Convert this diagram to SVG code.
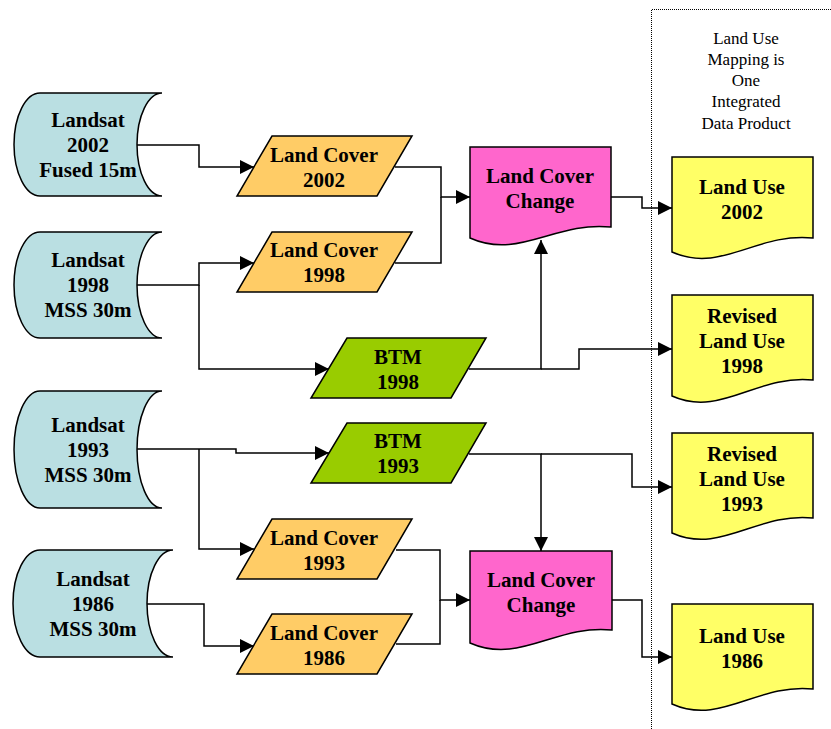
<svg xmlns="http://www.w3.org/2000/svg" width="831" height="729" viewBox="0 0 831 729" font-family="Liberation Serif, serif">
<defs>
<style>
.shape{stroke:#000;stroke-width:1.5;stroke-linejoin:miter}
.sat{fill:#BADFE2}
.lc{fill:#FFCC66}
.btm{fill:#99CC00}
.chg{fill:#FF66CC}
.lu{fill:#FFFF66}
.t{font-family:'Liberation Serif',serif;font-weight:bold;font-size:21px;text-anchor:middle;fill:#000}
.title{font-family:'Liberation Serif',serif;font-size:17px;text-anchor:middle;fill:#000}
.conn{fill:none;stroke:#000;stroke-width:1.5}
.dot{fill:none;stroke:#000;stroke-width:1;stroke-dasharray:1,1}
</style>
<marker id="arr" markerUnits="userSpaceOnUse" markerWidth="16" markerHeight="14" refX="14" refY="7" orient="auto">
<path d="M0,0 L14,7 L0,14 Z" fill="#000"/>
</marker>
</defs>
<rect width="831" height="729" fill="#fff"/>

<g id="boundary">
<path class="dot" d="M651.5,729 V9.5 H831"/>
<text class="title" x="746" y="44">Land Use</text>
<text class="title" x="746" y="65">Mapping is</text>
<text class="title" x="746" y="86">One</text>
<text class="title" x="746" y="107">Integrated</text>
<text class="title" x="746" y="129">Data Product</text>
</g>

<g id="connectors">
<path class="conn" d="M137,145 H199 V167 H254" marker-end="url(#arr)"/>
<path class="conn" d="M137,285 H199 V263 H254" marker-end="url(#arr)"/>
<path class="conn" d="M199,285 V369 H329" marker-end="url(#arr)"/>
<path class="conn" d="M395,167 H441 V197 H470" marker-end="url(#arr)"/>
<path class="conn" d="M395,263 H441 V197"/>
<path class="conn" d="M469,369 H541 V240" marker-end="url(#arr)"/>
<path class="conn" d="M541,369 H579 V349 H672" marker-end="url(#arr)"/>
<path class="conn" d="M137,449 H236 V453 H329" marker-end="url(#arr)"/>
<path class="conn" d="M199,449 V549 H254" marker-end="url(#arr)"/>
<path class="conn" d="M469,454 H541 V551" marker-end="url(#arr)"/>
<path class="conn" d="M541,454 H632 V487 H672" marker-end="url(#arr)"/>
<path class="conn" d="M147,604 H204 V646 H254" marker-end="url(#arr)"/>
<path class="conn" d="M396,550 H440 V600 H470" marker-end="url(#arr)"/>
<path class="conn" d="M396,644 H440 V600"/>
<path class="conn" d="M612,600 H642 V657 H672" marker-end="url(#arr)"/>
<path class="conn" d="M611,197 H642 V208 H672" marker-end="url(#arr)"/>
</g>

<g id="landsat2002">
<path class="shape sat" d="M40,93 H162 A25,51.5 0 0 0 162,196 H40 A26,51.5 0 0 1 40,93 Z"/>
<text class="t" x="88" y="127">Landsat</text>
<text class="t" x="88" y="152">2002</text>
<text class="t" x="88" y="177">Fused 15m</text>
</g>
<g id="landsat1998">
<path class="shape sat" d="M40,232 H162 A25,53 0 0 0 162,338 H40 A26,53 0 0 1 40,232 Z"/>
<text class="t" x="88" y="267">Landsat</text>
<text class="t" x="88" y="292">1998</text>
<text class="t" x="88" y="317">MSS 30m</text>
</g>
<g id="landsat1993">
<path class="shape sat" d="M40,391 H162 A25,58.5 0 0 0 162,508 H40 A26,58.5 0 0 1 40,391 Z"/>
<text class="t" x="88" y="432">Landsat</text>
<text class="t" x="88" y="457">1993</text>
<text class="t" x="88" y="482">MSS 30m</text>
</g>
<g id="landsat1986">
<path class="shape sat" d="M40,550 H173 A26,53.5 0 0 0 173,657 H40 A27,53.5 0 0 1 40,550 Z"/>
<text class="t" x="93" y="586">Landsat</text>
<text class="t" x="93" y="611">1986</text>
<text class="t" x="93" y="636">MSS 30m</text>
</g>

<g id="lc2002">
<path class="shape lc" d="M272,136 H412 L377,196 H237 Z"/>
<text class="t" x="324" y="162">Land Cover</text>
<text class="t" x="324" y="187">2002</text>
</g>
<g id="lc1998">
<path class="shape lc" d="M272,232 H412 L377,292 H237 Z"/>
<text class="t" x="324" y="257">Land Cover</text>
<text class="t" x="324" y="282">1998</text>
</g>
<g id="btm1998">
<path class="shape btm" d="M347,338 H486 L451,398 H311 Z"/>
<text class="t" x="398" y="364">BTM</text>
<text class="t" x="398" y="389">1998</text>
</g>
<g id="btm1993">
<path class="shape btm" d="M347,423 H486 L451,483 H311 Z"/>
<text class="t" x="398" y="448">BTM</text>
<text class="t" x="398" y="473">1993</text>
</g>
<g id="lc1993">
<path class="shape lc" d="M272,519 H412 L377,579 H237 Z"/>
<text class="t" x="324" y="545">Land Cover</text>
<text class="t" x="324" y="570">1993</text>
</g>
<g id="lc1986">
<path class="shape lc" d="M272,614 H412 L377,674 H237 Z"/>
<text class="t" x="324" y="640">Land Cover</text>
<text class="t" x="324" y="665">1986</text>
</g>

<g id="lcc1">
<path class="shape chg" d="M470,147 H611 V227 C555,221 519,260 470,238 Z"/>
<text class="t" x="540" y="183">Land Cover</text>
<text class="t" x="540" y="208">Change</text>
</g>
<g id="lcc2">
<path class="shape chg" d="M470,551 H612 V630 C556,624 520,665 470,643 Z"/>
<text class="t" x="541" y="587">Land Cover</text>
<text class="t" x="541" y="612">Change</text>
</g>

<g id="lu2002">
<path class="shape lu" d="M672,157 H813 V238 C757,232 721,274 672,252 Z"/>
<text class="t" x="742" y="194">Land Use</text>
<text class="t" x="742" y="219">2002</text>
</g>
<g id="rlu1998">
<path class="shape lu" d="M672,295 H813 V380 C757,374 721,418 672,396 Z"/>
<text class="t" x="742" y="323">Revised</text>
<text class="t" x="742" y="348">Land Use</text>
<text class="t" x="742" y="373">1998</text>
</g>
<g id="rlu1993">
<path class="shape lu" d="M672,433 H813 V518 C757,512 721,555 672,533 Z"/>
<text class="t" x="742" y="461">Revised</text>
<text class="t" x="742" y="486">Land Use</text>
<text class="t" x="742" y="511">1993</text>
</g>
<g id="lu1986">
<path class="shape lu" d="M672,604 H813 V689 C757,683 721,726 672,704 Z"/>
<text class="t" x="742" y="643">Land Use</text>
<text class="t" x="742" y="668">1986</text>
</g>
</svg>
